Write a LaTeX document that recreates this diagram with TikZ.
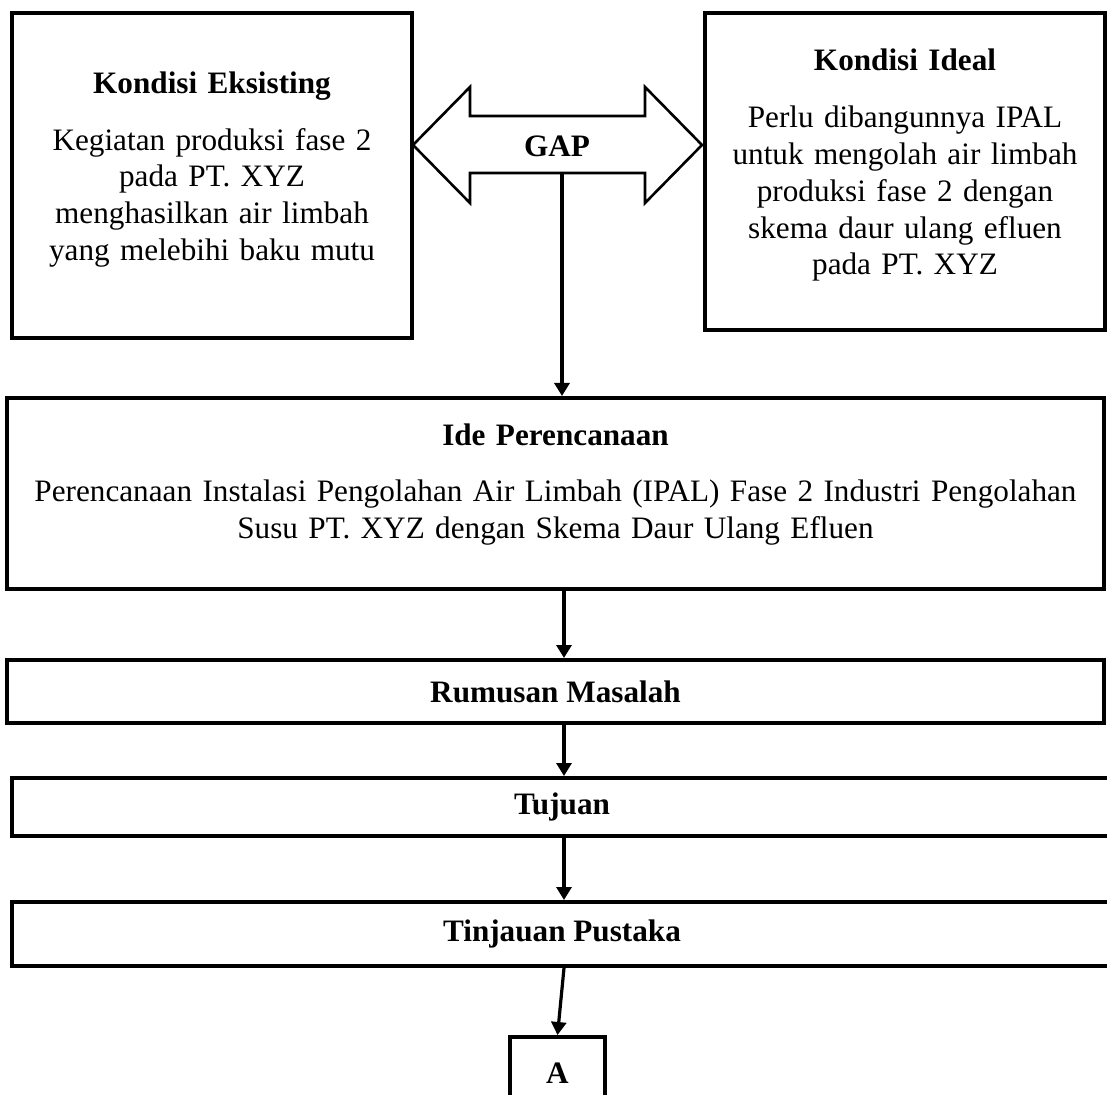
\documentclass[tikz,border=0pt]{standalone}
\usepackage{fontspec}
\setmainfont{Liberation Serif}
\usepackage{tikz}
\usetikzlibrary{arrows.meta, positioning}
\newcommand{\diagfont}{\fontsize{15.6pt}{18.4pt}\selectfont}
\newcommand{\lowstrut}[1]{\rule[-#1]{0pt}{1pt}}
\tikzset{
    kondisi/.style={rectangle, draw, line width=2pt, text width=190pt, align=center, minimum width=200pt, font=\diagfont},
    ideblock/.style={rectangle, draw, line width=2pt, text width=538pt, inner xsep=4pt, align=center, minimum width=548.5pt, minimum height=95.5pt, font=\diagfont},
    tahap/.style={rectangle, draw, line width=2pt, minimum width=548.5pt, font=\diagfont\bfseries},
    endbox/.style={rectangle, draw, line width=2pt, minimum width=47.5pt, minimum height=36.5pt, font=\diagfont\bfseries},
    arrow/.style={-{Triangle[length=6.5pt,width=7.5pt]}, line width=1.6pt},
    gaparrow/.style={draw, line width=1.3pt},
}

\begin{document}
\begin{tikzpicture}[x=0.5pt, y=-0.5pt]
        \clip (0,0) rectangle (1107,1095);
        % Nodes
        \node [kondisi, minimum height=162.5pt] (eksisting) at (212,175.5) {\textbf{Kondisi Eksisting}\\[10pt]Kegiatan produksi fase 2\\pada PT. XYZ\\menghasilkan air limbah\\yang melebihi baku mutu\lowstrut{9.5pt}};
        \node [kondisi, minimum height=158.5pt] (ideal) at (905,171.5) {\textbf{Kondisi Ideal}\\[10pt]Perlu dibangunnya IPAL\\untuk mengolah air limbah\\produksi fase 2 dengan\\skema daur ulang efluen\\pada PT. XYZ\lowstrut{9.5pt}};
        \node [font=\diagfont\bfseries] (gap) at (557,146) {GAP};
        \node [ideblock] (ide) at (555.5,493.5) {\textbf{Ide Perencanaan}\\[10pt]Perencanaan Instalasi Pengolahan Air Limbah (IPAL) Fase 2 Industri Pengolahan\\Susu PT. XYZ dengan Skema Daur Ulang Efluen\lowstrut{12.4pt}};
        \node [tahap, minimum height=31.5pt] (rumusan) at (555.5,691.5) {Rumusan Masalah};
        \node [tahap, minimum width=550pt, minimum height=29pt] (tujuan) at (562,807) {Tujuan};
        \node [tahap, minimum width=550pt, minimum height=32pt] (tinjauan) at (562,934) {Tinjauan Pustaka};
        \node [endbox] (hurufa) at (557.5,1073.5) {A};
        \coordinate (axis) at (564,0);
        \coordinate (gapfoot) at (562,173);

        % GAP double arrow
        \draw [gaparrow] (413,145) -- (470,87) -- (470,116) -- (645,116) -- (645,87) -- (702,145)
            -- (645,203) -- (645,173) -- (470,173) -- (470,203) -- cycle;

        % Edges
        \draw [arrow] (gapfoot) -- (gapfoot |- ide.north);
        \draw [arrow] (axis |- ide.south) -- (axis |- rumusan.north);
        \draw [arrow] (axis |- rumusan.south) -- (axis |- tujuan.north);
        \draw [arrow] (axis |- tujuan.south) -- (axis |- tinjauan.north);
        \draw [arrow] (axis |- tinjauan.south) -- (hurufa.north);
    \end{tikzpicture}
\end{document}
